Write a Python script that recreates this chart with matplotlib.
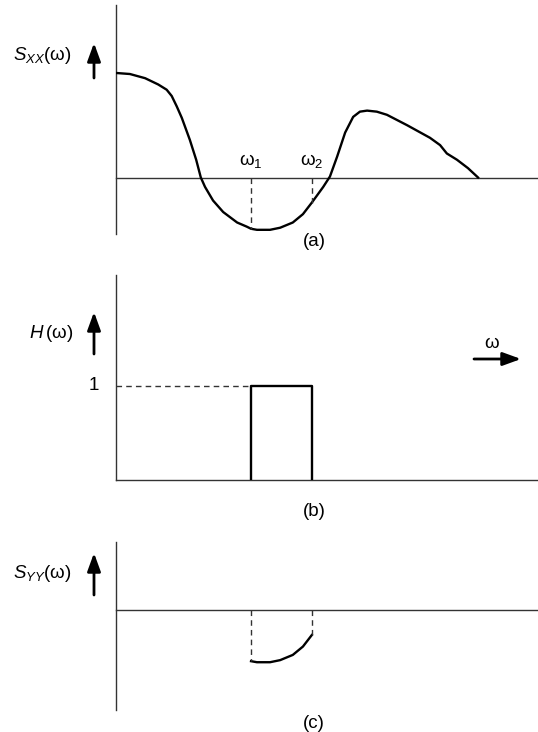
import matplotlib.pyplot as plt
import numpy as np

plt.rcParams["font.family"] = ["Liberation Sans", "DejaVu Sans"]
plt.rcParams["mathtext.fontset"] = "custom"
plt.rcParams["mathtext.rm"] = "Liberation Sans"
plt.rcParams["mathtext.it"] = "Liberation Sans:italic"

W, H = 538, 732

# band edges of the ideal filter
OMEGA1 = 3.2
OMEGA2 = 4.64

# input spectrum S_XX(w), sampled along the curve
omega_xx = [0.0, 0.33, 0.69, 1.00, 1.20, 1.32, 1.44, 1.56, 1.75, 1.90, 2.01, 2.11,
            2.30, 2.54, 2.87, 3.10, 3.20, 3.34, 3.65, 3.89, 4.19, 4.43, 4.64,
            4.91, 5.07, 5.24, 5.43, 5.62, 5.78, 5.95, 6.18, 6.42, 6.90, 7.44,
            7.68, 7.84, 8.08, 8.34, 8.58]
s_xx = [1.00, 0.99, 0.95, 0.89, 0.84, 0.78, 0.68, 0.57, 0.36, 0.17, 0.00, -0.09,
        -0.22, -0.33, -0.43, -0.47, -0.49, -0.50, -0.50, -0.48, -0.43, -0.35, -0.24,
        -0.09, 0.01, 0.20, 0.43, 0.58, 0.63, 0.64, 0.63, 0.60, 0.50, 0.38,
        0.31, 0.23, 0.17, 0.09, 0.00]

# filter: unit gain inside [OMEGA1, OMEGA2]
h_omega = [OMEGA1, OMEGA1, OMEGA2, OMEGA2]
h_gain = [0, 1, 1, 0]

AX_COLOR = "#333333"
FS = 13.5
ARROW = dict(arrowstyle="-|>,head_length=1.1,head_width=0.4",
             color="k", lw=2.0, shrinkA=0, shrinkB=0)


def frac_y(py):
    return 1 - py / H


def make_axes(fig, top, bottom, ylim):
    ax = fig.add_axes([116 / W, frac_y(bottom), (W - 116) / W, (bottom - top) / H])
    ax.set_xlim(0, 10)
    ax.set_ylim(*ylim)
    ax.axis("off")
    ax.axvline(0, color=AX_COLOR, lw=1.0, clip_on=False)
    ax.axhline(0, color=AX_COLOR, lw=1.0, clip_on=False)
    return ax


def arrow(fig, x0, y0, x1, y1):
    fig.add_artist(plt.Annotation(
        "", xy=(x1 / W, frac_y(y1)), xytext=(x0 / W, frac_y(y0)),
        xycoords="figure fraction", textcoords="figure fraction",
        arrowprops=ARROW))


def label(fig, x, y, s, ha="center"):
    fig.text(x / W, frac_y(y), s, ha=ha, va="center", fontsize=FS)


fig = plt.figure(figsize=(W / 100, H / 100), dpi=100)

# (a) input spectrum
ax_a = make_axes(fig, 5, 234, (-0.54, 1.65))
ax_a.plot(omega_xx, s_xx, color="k", lw=1.7, solid_joinstyle="round")
for w in (OMEGA1, OMEGA2):
    ax_a.plot([w, w], [0, np.interp(w, omega_xx, s_xx)], color=AX_COLOR,
              lw=1.0, ls=(0, (4, 3)))
ax_a.text(OMEGA1, 0.07, r"ω$_1$", ha="center", va="bottom", fontsize=FS)
ax_a.text(OMEGA2, 0.07, r"ω$_2$", ha="center", va="bottom", fontsize=FS)
label(fig, 42, 55, r"$S_{XX}$(ω)")
arrow(fig, 94, 78, 94, 43)
label(fig, 314, 242, "(a)")

# (b) ideal band-pass filter
ax_b = make_axes(fig, 275, 480, (0, 2.18))
ax_b.plot(h_omega, h_gain, color="k", lw=1.7)
ax_b.plot([0, OMEGA1], [1, 1], color=AX_COLOR, lw=1.0, ls=(0, (4, 3)))
label(fig, 99, 385, "1", ha="right")
label(fig, 51, 333, r"$H\,$(ω)")
arrow(fig, 94, 354, 94, 312)
label(fig, 492, 343, "ω")
arrow(fig, 474, 359, 521, 359)
label(fig, 314, 511, "(b)")

# (c) output spectrum S_YY = H * S_XX
omega_yy = [w for w in omega_xx if OMEGA1 <= w <= OMEGA2]
s_yy = [s for w, s in zip(omega_xx, s_xx) if OMEGA1 <= w <= OMEGA2]
ax_c = make_axes(fig, 542, 710, (-0.957, 0.65))
ax_c.plot(omega_yy, s_yy, color="k", lw=1.7)
for w, s in ((omega_yy[0], s_yy[0]), (omega_yy[-1], s_yy[-1])):
    ax_c.plot([w, w], [0, s], color=AX_COLOR, lw=1.0, ls=(0, (4, 3)))
label(fig, 42, 573, r"$S_{YY}$(ω)")
arrow(fig, 94, 595, 94, 553)
label(fig, 314, 723, "(c)")

fig.savefig("out.png", dpi=100)
